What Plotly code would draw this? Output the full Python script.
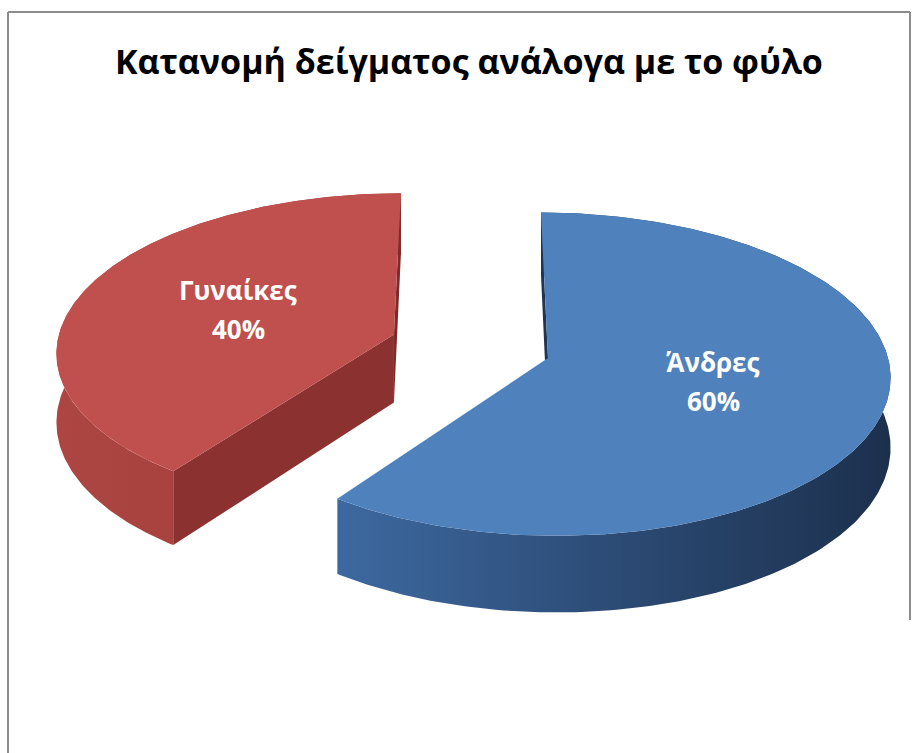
import numpy as np
import plotly.graph_objects as go

# ---- data ----
labels = ["Άνδρες", "Γυναίκες"]
values = [60, 40]
pull = [0.0, 0.48]                      # explode distance, in pie radii
top_colors = ["#4F81BD", "#C0504D"]
side_scales = [
    [[0, "#3D69A0"], [0.5, "#2C4B75"], [1, "#1C304D"]],
    [[0, "#AD4643"], [1, "#9C3B38"]],
]
cut_colors = ["#1F3552", "#8B3230"]
title = "Κατανομή δείγματος ανάλογα με το φύλο"

# ---- 3D pie projection (pixel space) ----
W, H = 918, 753
CX, CY = 548, 358        # pie centre on screen
RX, RY = 340, 160        # ellipse radii of the top face
DEPTH = 69               # thickness of the pie
P = 0.10                 # perspective strength (front bigger than back)
CAM = -0.226             # lateral camera offset (in radii)


def project(l, d, z=0.0):
    l = np.asarray(l, dtype=float)
    d = np.asarray(d, dtype=float)
    f = 1.0 / (1.0 - P * d)
    x = CX + RX * ((l - CAM) * f + CAM)
    y = CY + (RY * d + z) * f
    return x, y


def visible(nl, nd, pl, pd):
    # vertical face with outward normal (nl, nd) at point (pl, pd)
    return nl * (CAM - pl) + nd * (1.0 / P - pd) > 0


fig = go.Figure()
total = float(sum(values))
cum = 0.0
slices = []
for i, v in enumerate(values):
    a0 = cum / total * 2 * np.pi
    a1 = (cum + v) / total * 2 * np.pi
    cum += v
    mid = 0.5 * (a0 + a1)
    ol, od = pull[i] * np.sin(mid), -pull[i] * np.cos(mid)
    slices.append((a0, a1, mid, ol, od))

# draw the far (exploded) slice first, then the front one
order = sorted(range(len(values)), key=lambda k: slices[k][4])
for i in order:
    a0, a1, mid, ol, od = slices[i]
    ang = np.linspace(a0, a1, 240)
    rl = ol + np.sin(ang)
    rd = od - np.cos(ang)

    # outer curved wall
    xt, yt = project(rl, rd, 0)
    xb, yb = project(rl, rd, DEPTH)
    bx = np.concatenate([xt, xb[::-1], xt[:1]])
    by = np.concatenate([yt, yb[::-1], yt[:1]])
    fig.add_trace(go.Scatter(
        x=bx, y=by, mode="lines", fill="toself", line=dict(width=0),
        fillgradient=dict(type="horizontal", colorscale=side_scales[i]),
        hoverinfo="skip", showlegend=False))

    # radial cut faces
    for a, sgn in ((a0, -1.0), (a1, 1.0)):
        nl, nd = sgn * np.cos(a), sgn * np.sin(a)
        if not visible(nl, nd, ol, od):
            continue
        el, ed = ol + np.sin(a), od - np.cos(a)
        fl = [ol, el, el, ol, ol]
        fd = [od, ed, ed, od, od]
        fz = [0, 0, DEPTH, DEPTH, 0]
        fx, fy = zip(*[project(l, d, z) for l, d, z in zip(fl, fd, fz)])
        shade = cut_colors[i] if sgn < 0 or i == 0 else "#7C2B29"
        fig.add_trace(go.Scatter(
            x=[float(t) for t in fx], y=[float(t) for t in fy],
            mode="lines", fill="toself", line=dict(width=0),
            fillcolor=shade, hoverinfo="skip", showlegend=False))

    # top face
    tl = np.concatenate([[ol], rl, [ol]])
    td = np.concatenate([[od], rd, [od]])
    tx, ty = project(tl, td, 0)
    fig.add_trace(go.Scatter(
        x=tx, y=ty, mode="lines", fill="toself", line=dict(width=0),
        fillcolor=top_colors[i], hoverinfo="skip", showlegend=False))

# data labels: category name and share
for i, v in enumerate(values):
    a0, a1, mid, ol, od = slices[i]
    lx, ly = project(ol + 0.5 * np.sin(mid), od - 0.5 * np.cos(mid), 0)
    pct = f"{v / total * 100:.0f}%"
    for txt, shift in ((labels[i], 21), (pct, -18)):
        fig.add_annotation(
            x=float(lx), y=float(ly), text=f"<b>{txt}</b>", showarrow=False,
            yshift=shift, xanchor="center", yanchor="middle",
            font=dict(family="Open Sans", size=26, color="white"))

# chart title
fig.add_annotation(
    x=469, y=61, text=f"<b>{title}</b>", showarrow=False,
    xanchor="center", yanchor="middle",
    font=dict(family="Open Sans", size=34, color="black"))

# chart area frame
frame = dict(color="#8C8C8C", width=2)
fig.add_shape(type="line", x0=8, y0=12, x1=910, y1=12, line=frame, layer="below")
fig.add_shape(type="line", x0=8, y0=12, x1=8, y1=H, line=frame, layer="below")
fig.add_shape(type="line", x0=910, y0=12, x1=910, y1=620, line=frame, layer="below")

fig.update_layout(
    width=W, height=H, autosize=False,
    margin=dict(l=0, r=0, t=0, b=0),
    paper_bgcolor="white", plot_bgcolor="white",
    xaxis=dict(range=[0, W], visible=False, fixedrange=True),
    yaxis=dict(range=[H, 0], visible=False, fixedrange=True),
    showlegend=False,
)

fig.write_html("out.html")
